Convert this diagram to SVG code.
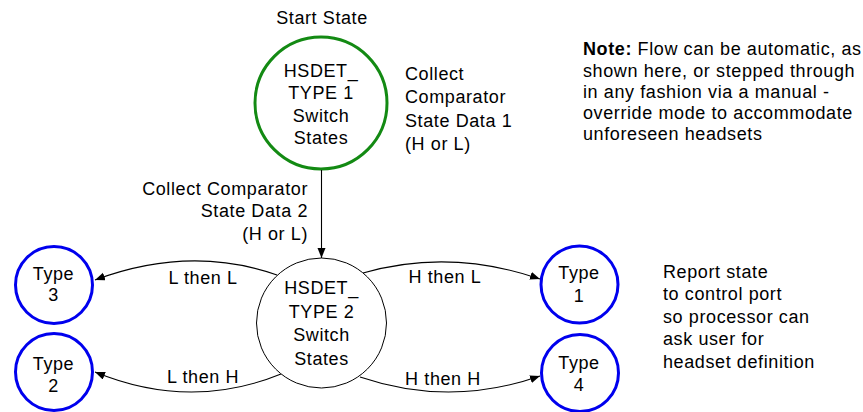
<svg xmlns="http://www.w3.org/2000/svg" width="863" height="412" viewBox="0 0 863 412">
<style>
text{font-family:"Liberation Sans",Arial,sans-serif;font-size:18px;letter-spacing:0.6px;fill:#000}
.c{text-anchor:middle}
.r{text-anchor:end}
.green{fill:none;stroke:#138a13;stroke-width:3}
.blue{fill:none;stroke:#0000ee;stroke-width:3}
.white{fill:#fff;stroke:#000;stroke-width:1}
.edge{fill:none;stroke:#000;stroke-width:1.1}
</style>
<defs>
<marker id="ah" markerUnits="userSpaceOnUse" markerWidth="11" markerHeight="9" refX="10" refY="4" orient="auto">
<path d="M0,0 L10,4 L0,8 z" fill="#000"/>
</marker>
</defs>
<text class="c" x="322" y="23.5">Start State</text>
<g id="type1start">
<circle class="green" cx="321" cy="103" r="66"/>
<text class="c" x="321" y="77">HSDET_</text>
<text class="c" x="321" y="99">TYPE 1</text>
<text class="c" x="321" y="121.5">Switch</text>
<text class="c" x="321" y="143.5">States</text>
</g>
<text x="405" y="80">Collect</text>
<text x="405" y="103">Comparator</text>
<text x="405" y="126.5">State Data 1</text>
<text x="405" y="150">(H or L)</text>
<g id="connectors">
<path class="edge" d="M321.5,170 L321.5,258" marker-end="url(#ah)"/>
<path class="edge" d="M277,275 Q190,244.5 95,280" marker-end="url(#ah)"/>
<path class="edge" d="M281,374 Q190,411 95,372" marker-end="url(#ah)"/>
<path class="edge" d="M363,273 Q450,248 540,279" marker-end="url(#ah)"/>
<path class="edge" d="M360,377 Q450,407.5 540,376" marker-end="url(#ah)"/>
<text class="r" x="308" y="194.8">Collect Comparator</text>
<text class="r" x="308" y="217">State Data 2</text>
<text class="r" x="308" y="240">(H or L)</text>
<text class="c" x="203" y="284">L then L</text>
<text class="c" x="203" y="382.5">L then H</text>
<text class="c" x="445" y="283">H then L</text>
<text class="c" x="443" y="384.5">H then H</text>
</g>
<g id="type2node">
<circle class="white" cx="321.5" cy="323" r="65"/>
<text class="c" x="321.5" y="294">HSDET_</text>
<text class="c" x="321.5" y="317.5">TYPE 2</text>
<text class="c" x="321.5" y="341">Switch</text>
<text class="c" x="321.5" y="364.5">States</text>
</g>
<g id="type3">
<circle class="blue" cx="54" cy="285" r="38.5"/>
<text class="c" x="53.5" y="280">Type</text>
<text class="c" x="53.5" y="300.5">3</text>
</g>
<g id="type2">
<circle class="blue" cx="54" cy="372" r="38.5"/>
<text class="c" x="53.5" y="369.5">Type</text>
<text class="c" x="53.5" y="391.5">2</text>
</g>
<g id="type1">
<circle class="blue" cx="579.5" cy="284.5" r="38.5"/>
<text class="c" x="579" y="279">Type</text>
<text class="c" x="579" y="301.5">1</text>
</g>
<g id="type4">
<circle class="blue" cx="580" cy="373" r="38.5"/>
<text class="c" x="579" y="368.5">Type</text>
<text class="c" x="579" y="390.5">4</text>
</g>
<g id="note">
<text x="583" y="55"><tspan font-weight="bold">Note:</tspan> Flow can be automatic, as</text>
<text x="583" y="77">shown here, or stepped through</text>
<text x="583" y="98">in any fashion via a manual -</text>
<text x="583" y="119">override mode to accommodate</text>
<text x="583" y="140">unforeseen headsets</text>
</g>
<g id="report">
<text x="663" y="277.5">Report state</text>
<text x="663" y="300">to control port</text>
<text x="663" y="322.5">so processor can</text>
<text x="663" y="345">ask user for</text>
<text x="663" y="368">headset definition</text>
</g>
</svg>
